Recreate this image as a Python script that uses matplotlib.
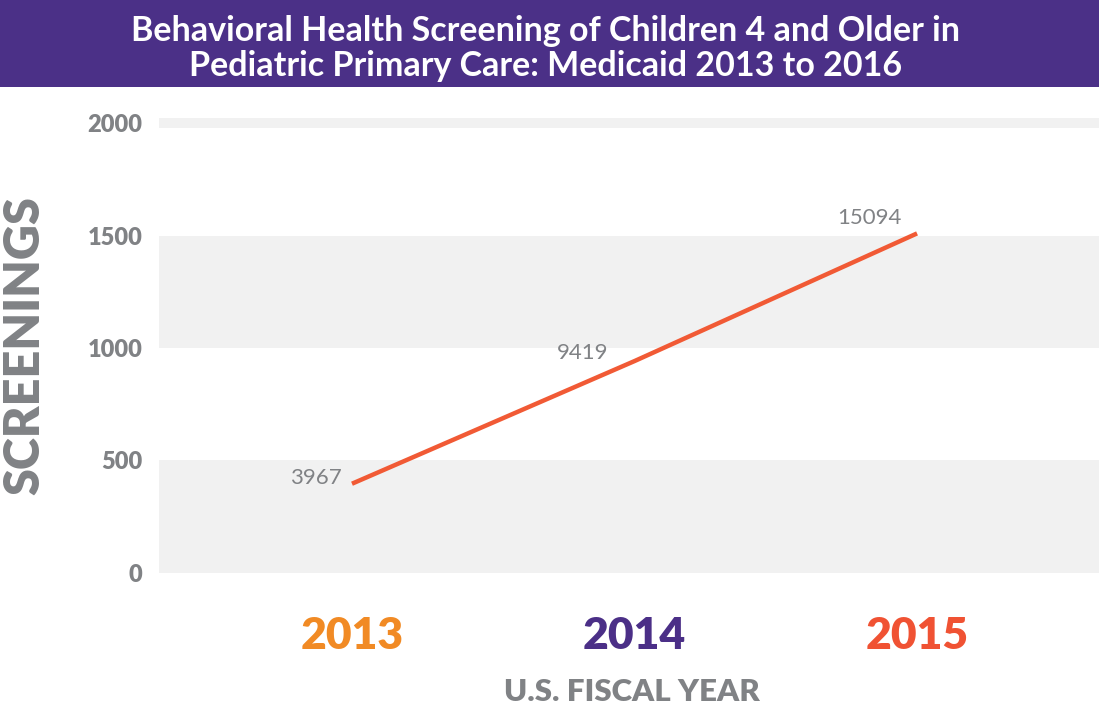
import matplotlib.pyplot as plt
from matplotlib.patches import Rectangle

# data (screenings, plotted in tens so they sit on the 0-2000 axis)
years = [2013, 2014, 2015]
screenings = [3967, 9419, 15094]
year_colors = ['#f18a24', '#4b2f87', '#f05233']
y_ticks = [0, 500, 1000, 1500, 2000]
title = ("Behavioral Health Screening of Children 4 and Older in\n"
         "Pediatric Primary Care: Medicaid 2013 to 2016")

# label offsets in points (dx, dy) relative to each point
label_offsets = [(-7, 4), (-19, 6), (-11, 11)]

GRAY = '#808285'
BAND = '#f1f1f1'
LINE = '#f15a35'
PURPLE = '#4b3087'

plt.rcParams['font.family'] = ['Lato', 'DejaVu Sans']

fig = plt.figure(figsize=(10.99, 7.13), dpi=100)

# title banner
fig.patches.append(Rectangle((0, 0.878), 1, 0.122, transform=fig.transFigure,
                             facecolor=PURPLE, edgecolor='none', zorder=0))
fig.text(0.4964, 0.932, title, ha='center', va='center', color='white',
         fontsize=24.5, fontweight='bold', linespacing=1.12)

ax = fig.add_axes([159 / 1099, 0.1964, 1 - 159 / 1099, 0.8353 - 0.1964])
ax.set_xlim(2012.317, 2015.644)
ax.set_ylim(0, 2025)

# alternating background bands
ax.axhspan(0, 500, color=BAND, lw=0, zorder=0)
ax.axhspan(1000, 1500, color=BAND, lw=0, zorder=0)
ax.axhspan(1978, 2022, color=BAND, lw=0, zorder=0)

values = [v / 10 for v in screenings]
ax.plot(years, values, color=LINE, lw=3.2, solid_capstyle='butt', zorder=3)

for x, y, v, (dx, dy) in zip(years, values, screenings, label_offsets):
    ax.annotate(str(v), (x, y), xytext=(dx, dy), textcoords='offset points',
                ha='right', va='center', color=GRAY, fontsize=16,
                fontweight='normal')

for s in ax.spines.values():
    s.set_visible(False)

ax.set_yticks(y_ticks)
ax.set_yticklabels([str(t) for t in y_ticks], fontsize=17, fontweight='heavy',
                   color=GRAY)
ax.tick_params(axis='y', length=0, pad=12)

ax.set_xticks(years)
ax.set_xticklabels([str(y) for y in years], fontsize=32, fontweight='heavy')
for lbl, c in zip(ax.get_xticklabels(), year_colors):
    lbl.set_color(c)
ax.tick_params(axis='x', length=0, pad=31)

fig.text(632 / 1099, (713 - 692) / 713, 'U.S. FISCAL YEAR', ha='center',
         va='center', color=GRAY, fontsize=22.5, fontweight='heavy')
fig.text(25 / 1099, (713 - 346) / 713, 'SCREENINGS', ha='center', va='center',
         rotation=90, color=GRAY, fontsize=35, fontweight='heavy')

fig.savefig('out.png', dpi=100)
